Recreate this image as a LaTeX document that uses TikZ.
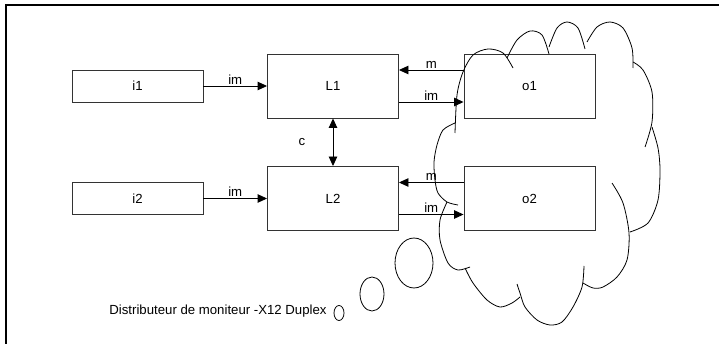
\documentclass[tikz,border=0pt]{standalone}
\usepackage{fontspec}
\setmainfont{Liberation Sans}
\usepackage{tikz}
\usetikzlibrary{arrows.meta,calc}

\begin{document}
\begin{tikzpicture}[x=1pt,y=-1pt,
		font=\fontsize{13.2}{16}\selectfont,
		block/.style={draw=black!80,line width=0.9pt,minimum width=131pt,minimum height=64pt,inner sep=0pt},
		inbox/.style={block,minimum height=32pt},
		flow/.style={line width=0.9pt,-{Triangle[length=9.5pt,width=8.5pt]}},
		both/.style={line width=0.9pt,{Triangle[length=9.5pt,width=8.5pt]}-{Triangle[length=9.5pt,width=8.5pt]}},
		tag/.style={above,inner sep=1.5pt},
		puff/.style={line width=0.8pt}]
		\useasboundingbox (0,0) rectangle (719,344);
		\draw[line width=1.5pt] (6,344) -- (6,5) -- (719,5);
		
		\node[inbox] (i1) at (137.5,86) {i1};
		\node[inbox] (i2) at (137.5,198.5) {i2};
		\node[block] (L1) at (333,86) {L1};
		\node[block] (L2) at (333,198.5) {L2};
		\node[block] (o1) at (529.5,86) {o1};
		\node[block] (o2) at (529.5,198.5) {o2};
		
		\draw[flow] (i1) -- node[tag] {im} (L1);
		\draw[flow] (i2) -- node[tag] {im} (L2);
		\draw[flow] ([yshift=16pt]o1.west) -- node[tag] {m} ([yshift=16pt]L1.east);
		\draw[flow] ([yshift=-16pt]L1.east) -- node[tag] {im} ([yshift=-16pt]o1.west);
		\draw[flow] ([yshift=16pt]o2.west) -- node[tag] {m} ([yshift=16pt]L2.east);
		\draw[flow] ([yshift=-16pt]L2.east) -- node[tag] {im} ([yshift=-16pt]o2.west);
		\draw[both] (L1) -- node[left=24pt] {c} (L2);
		
		% cloud
		\draw[puff] plot[smooth] coordinates {(455,133) (457,95) (463,72) (473,55) (488,49) (503,53) (513,68)};
		\draw[puff] plot[smooth] coordinates {(507,58) (517,40) (530,31) (542,35) (549,54)};
		\draw[puff] plot[smooth] coordinates {(549,47) (557,28) (567,22) (578,28) (585,49)};
		\draw[puff] plot[smooth] coordinates {(587,42) (597,27) (610,22) (623,28) (632,48) (633,68)};
		\draw[puff] plot[smooth] coordinates {(633,62) (643,70) (652,92) (652,122) (645,147)};
		\draw[puff] plot[smooth] coordinates {(652,127) (658,148) (660,170) (658,200) (648,223) (630,232)};
		\draw[puff] plot[smooth] coordinates {(612,183) (623,203) (629,233) (627,260) (617,277) (603,287) (593,288) (583,283)};
		\draw[puff] plot[smooth] coordinates {(584,266) (582,287) (573,307) (562,322) (550,325) (537,320) (525,307) (520,293) (517,284)};
		\draw[puff] plot[smooth] coordinates {(520,297) (512,303) (500,307) (487,300) (473,283) (465,268)};
		\draw[puff] plot[smooth] coordinates {(470,267) (458,270) (448,263) (440,240) (440,220) (447,202)};
		\draw[puff] plot[smooth] coordinates {(455,123) (443,130) (437,145) (434,162) (435,180) (438,193) (447,202) (458,205)};
		
		\draw[puff] (414,263) ellipse (19 and 25);
		\draw[puff] (372,294) ellipse (12 and 17);
		\draw[puff] (339,313) ellipse (5 and 7.5);
		\node (note) at (218,311) {Distributeur de moniteur -X12 Duplex};
	\end{tikzpicture}
\end{document}
